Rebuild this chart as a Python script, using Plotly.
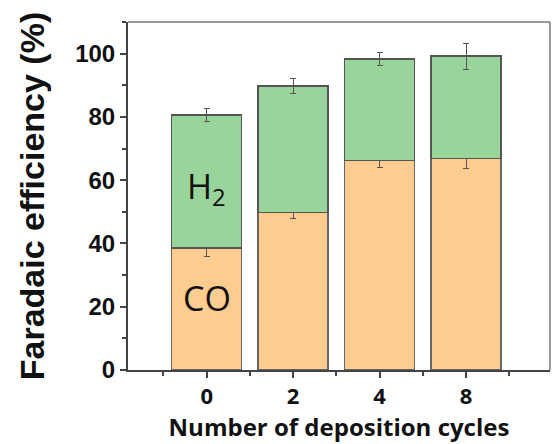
import plotly.graph_objects as go

cycles = ["0", "2", "4", "8"]
co_fe = [38.5, 49.8, 66.3, 66.8]
co_err = [2.7, 1.8, 2.4, 3.0]
total_fe = [80.6, 89.8, 98.3, 99.2]
total_err = [2.0, 2.4, 2.2, 4.1]
h2_fe = [t - c for t, c in zip(total_fe, co_fe)]

xpos = list(range(len(cycles)))

fig = go.Figure()
fig.add_trace(go.Bar(
    x=xpos, y=co_fe, name="CO", width=0.81,
    marker=dict(color="#FFCC90", line=dict(color="#666666", width=1.5)),
    error_y=dict(type="data", array=co_err, color="#555555", thickness=1, width=3),
))
fig.add_trace(go.Bar(
    x=xpos, y=h2_fe, name="H2", width=0.81,
    marker=dict(color="#99D49A", line=dict(color="#555555", width=1.5)),
    error_y=dict(type="data", array=total_err, color="#555555", thickness=1, width=3),
))

fig.update_layout(
    barmode="stack",
    width=552, height=444,
    margin=dict(l=128, r=2, t=22, b=74),
    paper_bgcolor="white", plot_bgcolor="white",
    showlegend=False,
    font=dict(family="Liberation Sans", color="#111111"),
)
fig.update_xaxes(
    range=[-0.91, 3.97],
    tickvals=xpos, ticktext=cycles,
    ticks="outside", ticklen=6, tickwidth=1.5, tickcolor="#444444",
    minor=dict(tickvals=[-0.5, 0.5, 1.5, 2.5, 3.5], ticks="outside", ticklen=4, tickcolor="#444444", tickwidth=1.5),
    showline=True, linecolor="#444444", linewidth=2,
    showgrid=False, zeroline=False,
    tickfont=dict(family="Open Sans", size=22, color="#111111", weight="bold"),
    title=dict(text="Number of deposition cycles", standoff=6,
               font=dict(family="Open Sans", size=24, color="#111111", weight="bold")),
)
fig.update_yaxes(
    range=[0, 110],
    dtick=20, tick0=0,
    ticks="outside", ticklen=6, tickwidth=1.5, tickcolor="#444444",
    minor=dict(dtick=10, ticks="outside", ticklen=4, tickcolor="#444444", tickwidth=1.5),
    showline=True, linecolor="#444444", linewidth=2,
    showgrid=False, zeroline=False,
    tickfont=dict(family="Liberation Sans", size=24, color="#111111", weight="bold"),
    title=dict(text="Faradaic efficiency (%)", standoff=20,
               font=dict(family="Liberation Sans", size=34, color="#111111", weight="bold")),
)

fig.add_shape(type="line", xref="paper", yref="paper", x0=0, x1=1, y0=1, y1=1,
              line=dict(color="#999999", width=2))
fig.add_shape(type="line", xref="paper", yref="paper", x0=1, x1=1, y0=0, y1=1,
              line=dict(color="#999999", width=2))

fig.add_annotation(x=0, y=57.5, text="H<sub>2</sub>", showarrow=False,
                   font=dict(family="Open Sans", size=34, color="#111111"))
fig.add_annotation(x=0, y=22.7, text="CO", showarrow=False,
                   font=dict(family="Open Sans", size=34, color="#111111"))

fig.write_html("out.html")
